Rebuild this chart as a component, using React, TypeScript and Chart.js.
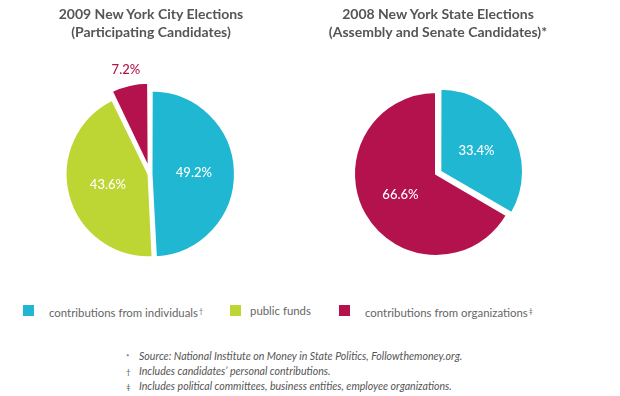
import React, { useEffect, useRef } from "react";
import { Chart, registerables } from "chart.js";

Chart.register(...registerables);

const categories = ["contributions from individuals", "public funds", "contributions from organizations"];
const categoryMarks = ["\u2020", "", "\u2021"];
const nycLabels = ["contributions from individuals", "public funds", "contributions from organizations"];
const nycValues = [49.2, 43.6, 7.2];
const nysLabels = ["contributions from individuals", "contributions from organizations"];
const nysValues = [33.4, 66.6];
const footnotes = [
  ["*", "Source: National Institute on Money in State Politics, Followthemoney.org."],
  ["\u2020", "Includes candidates\u2019 personal contributions."],
  ["\u2021", "Includes political committees, business entities, employee organizations."],
];

const CYAN = "#1fb7d1";
const GREEN = "#bdd634";
const MAGENTA = "#b3124c";
const FONT = "Lato, 'Open Sans', sans-serif";

const labelPlugin = {
  id: "sliceLabels",
  afterDatasetsDraw(chart: any) {
    const ctx = chart.ctx;
    const meta = chart.getDatasetMeta(0);
    const ds = chart.data.datasets[0];
    meta.data.forEach((arc: any, i: number) => {
      const v = ds.data[i];
      const mid = (arc.startAngle + arc.endAngle) / 2;
      const circ = arc.endAngle - arc.startAngle;
      const off = (Array.isArray(ds.offset) ? ds.offset[i] : ds.offset || 0) / 4;
      const fix = 1 - Math.sin(Math.min(Math.PI, circ));
      const shift = off * (1 + fix);
      const r = arc.outerRadius;
      ctx.save();
      ctx.textAlign = "center";
      ctx.textBaseline = "middle";
      if (v < 10) {
        const d = r * 1.31;
        ctx.fillStyle = ds.backgroundColor[i];
        ctx.font = `500 13px ${FONT}`;
        ctx.fillText(v.toFixed(1) + "%", arc.x + Math.cos(mid) * d, arc.y + Math.sin(mid) * d);
      } else {
        const d = r * 0.5 + shift;
        ctx.fillStyle = "#ffffff";
        ctx.font = `500 13px ${FONT}`;
        ctx.fillText(v.toFixed(1) + "%", arc.x + Math.cos(mid) * d, arc.y + Math.sin(mid) * d);
      }
      ctx.restore();
    });
  },
};

function PieCanvas(props: {
  labels: string[];
  values: number[];
  colors: string[];
  offsets: number[];
  padding: any;
  style: React.CSSProperties;
}) {
  const ref = useRef<HTMLCanvasElement>(null);
  useEffect(() => {
    if (!ref.current) return;
    const chart = new Chart(ref.current, {
      type: "pie",
      data: {
        labels: props.labels,
        datasets: [
          {
            data: props.values,
            backgroundColor: props.colors,
            borderColor: "#ffffff",
            borderWidth: 2,
            offset: props.offsets,
            radius: 82,
          } as any,
        ],
      },
      options: {
        animation: false,
        responsive: false,
        maintainAspectRatio: false,
        layout: { padding: props.padding },
        plugins: { legend: { display: false }, tooltip: { enabled: false }, title: { display: false } },
      },
      plugins: [labelPlugin],
    });
    return () => chart.destroy();
  }, []);
  return <canvas ref={ref} width={310} height={300} style={{ position: "absolute", ...props.style }} />;
}

export default function App() {
  const titleStyle: React.CSSProperties = {
    position: "absolute",
    top: 5,
    textAlign: "center",
    fontFamily: FONT,
    fontWeight: 700,
    fontSize: 14,
    lineHeight: "18px",
    color: "#555555",
    zIndex: 2,
  };
  const legendColors = [CYAN, GREEN, MAGENTA];
  const squareX = [23, 230, 339];
  const textX = [49, 250, 365];
  return (
    <div style={{ position: "fixed", left: 0, top: 0, width: 620, height: 396, background: "#ffffff", overflow: "hidden" }}>
      <PieCanvas
        labels={nycLabels}
        values={nycValues}
        colors={[CYAN, GREEN, MAGENTA]}
        offsets={[6, 6, 24]}
        padding={{ top: 48, bottom: 0, left: 0, right: 10 }}
        style={{ left: 0, top: 0 }}
      />
      <PieCanvas
        labels={nysLabels}
        values={nysValues}
        colors={[CYAN, MAGENTA]}
        offsets={[20, 0]}
        padding={{ top: 48, bottom: 0, left: 0, right: 58 }}
        style={{ left: 310, top: 0 }}
      />
      <div style={{ ...titleStyle, left: 0, width: 302 }}>
        2009 New York City Elections
        <br />
        (Participating Candidates)
      </div>
      <div style={{ ...titleStyle, left: 283, width: 310 }}>
        2008 New York State Elections
        <br />
        (Assembly and Senate Candidates)*
      </div>
      {categories.map((c, i) => (
        <React.Fragment key={c}>
          <span
            style={{
              position: "absolute",
              left: squareX[i],
              top: 305,
              width: 11,
              height: 11,
              background: legendColors[i],
            }}
          />
          <span
            style={{
              position: "absolute",
              left: textX[i],
              top: 302,
              lineHeight: "18px",
              fontFamily: FONT,
              fontSize: 11.4,
              color: "#666666",
              whiteSpace: "nowrap",
            }}
          >
            {c}
            {categoryMarks[i] ? (
              <span style={{ fontSize: 7, verticalAlign: "3px", marginLeft: 1 }}>{categoryMarks[i]}</span>
            ) : null}
          </span>
        </React.Fragment>
      ))}
      {footnotes.map((f, i) => (
        <div
          key={i}
          style={{
            position: "absolute",
            left: 126,
            top: 349 + i * 15,
            fontFamily: FONT,
            fontStyle: "italic",
            fontSize: 10.6,
            lineHeight: "15px",
            color: "#555555",
            whiteSpace: "nowrap",
          }}
        >
          <span style={{ display: "inline-block", width: 13, fontStyle: "normal", fontSize: 8 }}>{f[0]}</span>
          <span>{f[1]}</span>
        </div>
      ))}
    </div>
  );
}
